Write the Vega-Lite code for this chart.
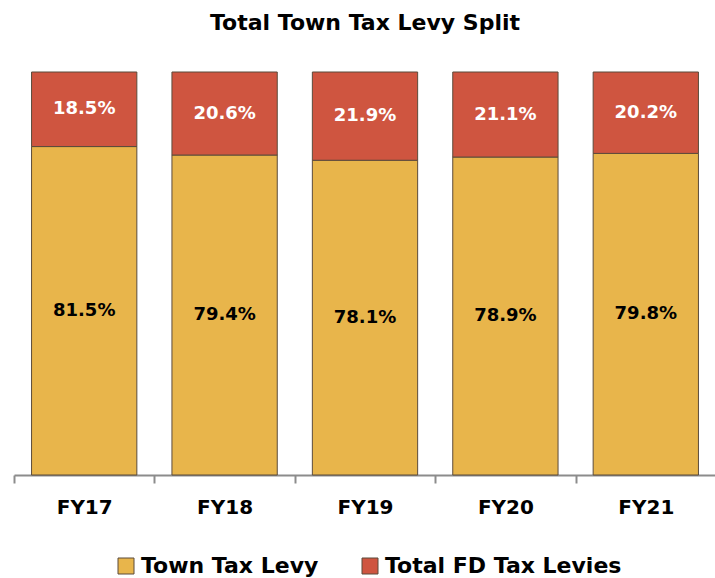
{
  "$schema": "https://vega.github.io/schema/vega-lite/v6.json",
  "autosize": "none",
  "width": 702,
  "height": 403,
  "padding": {"left": 14, "top": 72, "right": 0, "bottom": 103},
  "background": "white",
  "config": {
    "view": {"stroke": null},
    "font": "DejaVu Sans"
  },
  "title": {
    "text": "Total Town Tax Levy Split",
    "font": "DejaVu Sans",
    "fontSize": 22,
    "fontWeight": "bold",
    "color": "black",
    "anchor": "middle",
    "offset": 37
  },
  "data": {
    "values": [
      {"year": "FY17", "series": "Town Tax Levy", "value": 0.815},
      {"year": "FY17", "series": "Total FD Tax Levies", "value": 0.185},
      {"year": "FY18", "series": "Town Tax Levy", "value": 0.794},
      {"year": "FY18", "series": "Total FD Tax Levies", "value": 0.206},
      {"year": "FY19", "series": "Town Tax Levy", "value": 0.781},
      {"year": "FY19", "series": "Total FD Tax Levies", "value": 0.219},
      {"year": "FY20", "series": "Town Tax Levy", "value": 0.789},
      {"year": "FY20", "series": "Total FD Tax Levies", "value": 0.211},
      {"year": "FY21", "series": "Town Tax Levy", "value": 0.798},
      {"year": "FY21", "series": "Total FD Tax Levies", "value": 0.202}
    ]
  },
  "transform": [
    {"stack": "value", "groupby": ["year"], "sort": [{"field": "series", "order": "descending"}], "as": ["v0", "v1"]},
    {"calculate": "(datum.v0 + datum.v1) / 2", "as": "mid"}
  ],
  "encoding": {
    "x": {
      "field": "year",
      "type": "nominal",
      "title": null,
      "scale": {"paddingInner": 0, "paddingOuter": 0},
      "axis": {
        "labelAngle": 0,
        "tickBand": "extent",
        "domainColor": "#8c8c8c",
        "domainWidth": 2,
        "tickColor": "#8c8c8c",
        "tickWidth": 2,
        "tickSize": 8,
        "labelFont": "DejaVu Sans",
        "labelFontSize": 20,
        "labelFontWeight": "bold",
        "labelColor": "black",
        "labelPadding": 14
      }
    }
  },
  "layer": [
    {
      "mark": {"type": "bar", "stroke": "#5b4b3b", "strokeWidth": 1, "width": {"band": 0.75}},
      "encoding": {
        "y": {"field": "v0", "type": "quantitative", "scale": {"domain": [0, 1]}, "axis": null},
        "y2": {"field": "v1"},
        "color": {
          "field": "series",
          "type": "nominal",
          "scale": {"domain": ["Town Tax Levy", "Total FD Tax Levies"], "range": ["#E8B54B", "#CF5540"]},
          "legend": {
            "title": null,
            "orient": "none",
            "direction": "horizontal",
            "legendX": 101,
            "legendY": 483,
            "symbolType": "square",
            "symbolSize": 256,
            "symbolStrokeColor": "#5b4b3b",
            "symbolStrokeWidth": 1,
            "symbolOpacity": 1,
            "labelFont": "DejaVu Sans",
            "labelFontSize": 22,
            "labelFontWeight": "bold",
            "labelColor": "black",
            "labelOffset": 4,
            "labelLimit": 400,
            "columnPadding": 40
          }
        }
      }
    },
    {
      "mark": {"type": "text", "font": "DejaVu Sans", "fontSize": 18, "fontWeight": "bold", "baseline": "middle", "align": "center"},
      "encoding": {
        "y": {"field": "mid", "type": "quantitative", "scale": {"domain": [0, 1]}},
        "text": {"field": "value", "type": "quantitative", "format": ".1%"},
        "color": {
          "condition": {"test": "datum.series === 'Total FD Tax Levies'", "value": "white"},
          "value": "black"
        }
      }
    }
  ]
}
